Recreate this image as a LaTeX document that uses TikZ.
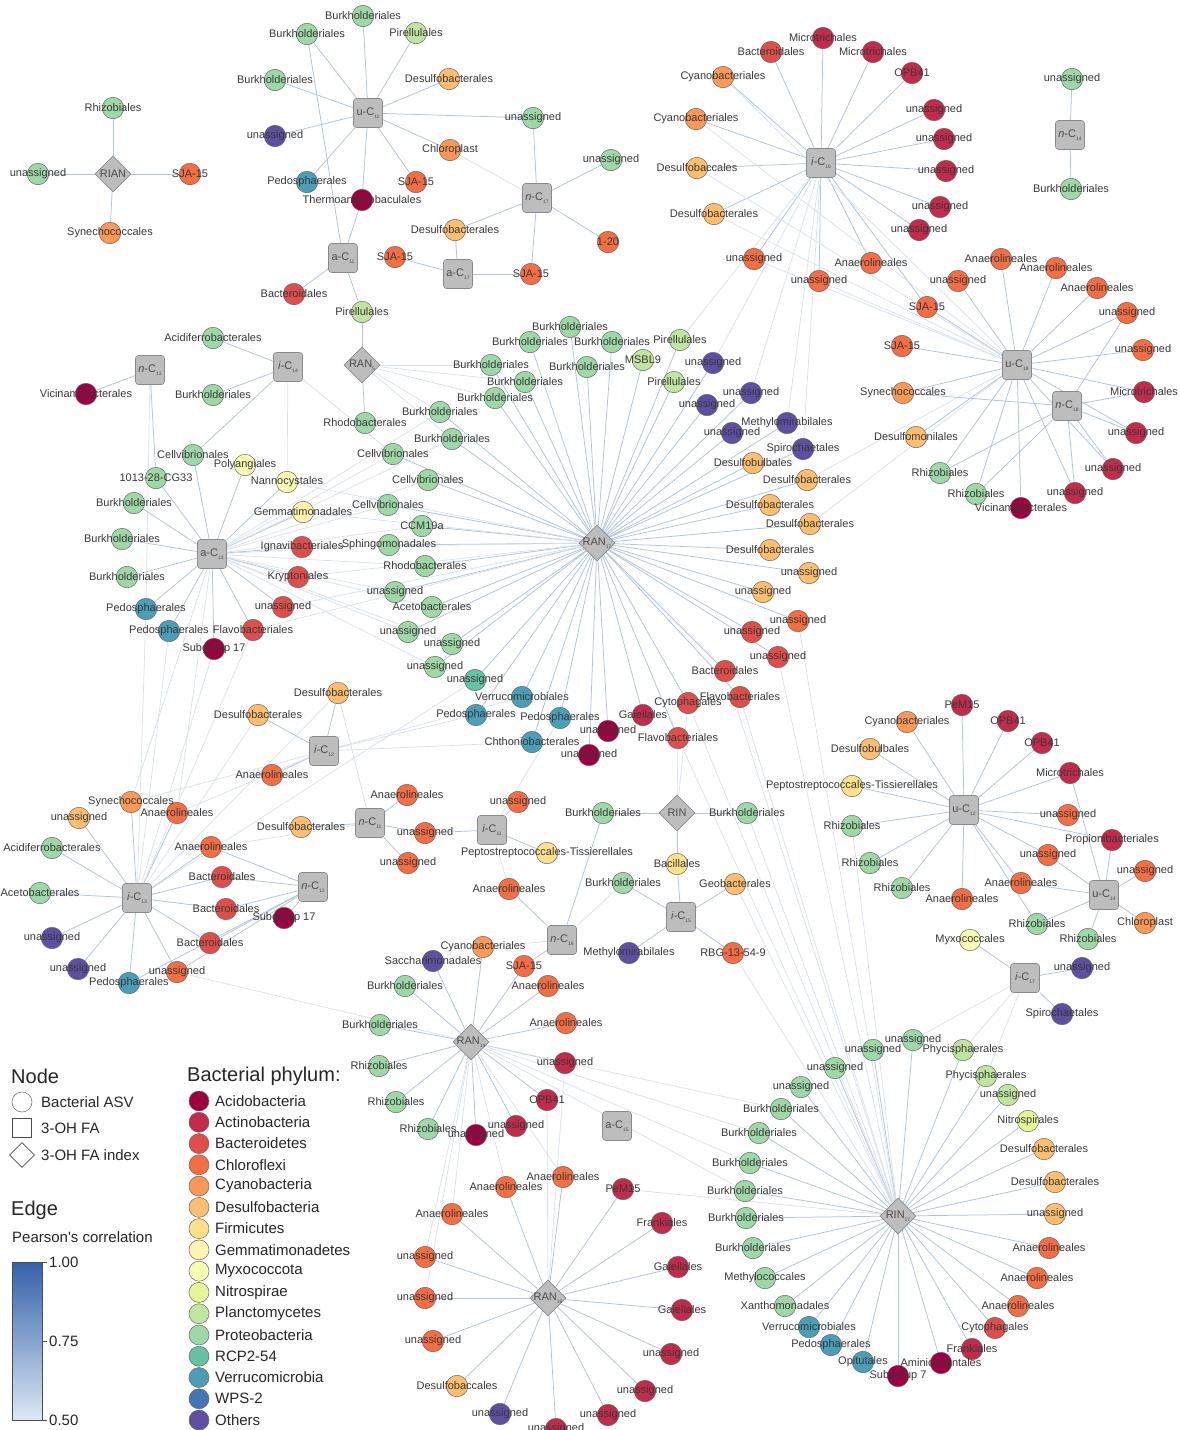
\documentclass[tikz,border=0pt]{standalone}
\usepackage{fontspec}
\setmainfont{Liberation Sans}
\usetikzlibrary{shapes.geometric}
\pgfdeclarelayer{background}
\pgfsetlayers{background,main}
\definecolor{acid}{HTML}{9E0142}
\definecolor{acti}{HTML}{C32A4B}
\definecolor{bact}{HTML}{DF4E4B}
\definecolor{chlo}{HTML}{F46D43}
\definecolor{cyan}{HTML}{FA9857}
\definecolor{desu}{HTML}{FDBF6F}
\definecolor{firm}{HTML}{FEE08B}
\definecolor{gemm}{HTML}{FFF5AE}
\definecolor{myxo}{HTML}{F7FCB2}
\definecolor{nitr}{HTML}{E6F598}
\definecolor{plan}{HTML}{BFE5A0}
\definecolor{prot}{HTML}{9ED8A6}
\definecolor{rcpt}{HTML}{66C2A5}
\definecolor{verr}{HTML}{4A9EB8}
\definecolor{wpst}{HTML}{4175B4}
\definecolor{othe}{HTML}{5E4FA2}
\definecolor{edgec}{HTML}{AFC3DC}
\definecolor{edgelc}{HTML}{D6E1EE}
\definecolor{hubfill}{HTML}{BDBDBD}
\definecolor{hubdraw}{HTML}{8A8A8A}
\definecolor{bartop}{HTML}{3461A9}
\definecolor{barbot}{HTML}{DCE8F5}
\tikzset{
 asv/.style={circle,draw=black!60,line width=0.5pt,minimum size=21.5pt,inner sep=0pt},
 fa/.style={rectangle,rounded corners=3pt,draw=hubdraw,fill=hubfill,line width=0.6pt,minimum size=29pt,inner sep=0pt},
 idx/.style={diamond,draw=hubdraw,fill=hubfill,line width=0.6pt,minimum width=36pt,minimum height=36pt,inner sep=0pt},
 lbl/.style={font=\fontsize{11}{11}\selectfont,text=black!78,inner sep=0pt},
 hlbl/.style={font=\fontsize{11}{11}\selectfont,text=black!70,inner sep=0pt},
 edge/.style={draw=edgec,line width=0.75pt},
 edgel/.style={draw=edgelc,line width=0.7pt},
 lgh/.style={font=\fontsize{20}{20}\selectfont,text=black!85,anchor=west,inner sep=0pt},
 lgt/.style={font=\fontsize{15}{15}\selectfont,text=black!85,anchor=west,inner sep=0pt},
 lgc/.style={circle,draw=black!60,line width=0.5pt,minimum size=20pt,inner sep=0pt}
}
\newcommand{\sbs}[1]{\raisebox{-0.45ex}{\fontsize{5}{5}\selectfont #1}}
\newcommand{\AsvC}[5]{\node[asv,fill=#4] (#1) at (#2,#3) {};}
\newcommand{\AsvL}[5]{\node[lbl] (#1t) at (#2,#3) {#5};}
\newcommand{\FaC}[4]{\node[fa] (#1) at (#2,#3) {};\node[hlbl] (#1t) at (#2,#3) {#4};}
\newcommand{\IdxC}[4]{\node[idx] (#1) at (#2,#3) {};\node[hlbl] (#1t) at (#2,#3) {#4};}
\newcommand{\HubSkip}[4]{}
\newcommand{\Asv}{}
\newcommand{\Fa}{}
\newcommand{\Idx}{}
\newcommand{\Fan}[3][edge]{\foreach \lf in {#3} {\draw[#1] (#2) -- (\lf);}}
\newcommand{\NodeData}{%
\Idx{rian}{113}{174}{RIAN}
\Asv{ria1}{113}{108}{prot}{Rhizobiales}
\Asv{ria2}{38}{174}{prot}{unassigned}
\Asv{ria3}{190}{174}{chlo}{SJA-15}
\Asv{ria4}{110}{233}{cyan}{Synechococcales}
\Fa{uc11}{368}{113}{u-C\sbs{11}}
\Asv{u1}{363}{16}{prot}{Burkholderiales}
\Asv{u2}{307}{34}{prot}{Burkholderiales}
\Asv{u3}{416}{33}{plan}{Pirellulales}
\Asv{u4}{275}{80}{prot}{Burkholderiales}
\Asv{u5}{449}{79}{desu}{Desulfobacterales}
\Asv{u6}{533}{118}{prot}{unassigned}
\Asv{u7}{275}{136}{othe}{unassigned}
\Asv{u8}{450}{150}{cyan}{Chloroplast}
\Asv{u9}{307}{182}{verr}{Pedosphaerales}
\Asv{u10}{416}{182}{chlo}{SJA-15}
\Asv{u11}{362}{200}{acid}{Thermoanaerobaculales}
\Fa{ac11}{343}{258}{a-C\sbs{11}}
\Asv{b1}{294}{294}{bact}{Bacteroidales}
\Asv{b2}{362}{312}{plan}{Pirellulales}
\Fa{nc17}{537}{198}{\textit{n}-C\sbs{17}}
\Asv{n1}{611}{160}{prot}{unassigned}
\Asv{n2}{608}{242}{chlo}{1-20}
\Asv{n3}{455}{230}{desu}{Desulfobacterales}
\Asv{n4}{531}{274}{chlo}{SJA-15}
\Asv{n5}{395}{257}{chlo}{SJA-15}
\Fa{ac17}{458}{274}{a-C\sbs{17}}
\Fa{ic16}{821}{163}{\textit{i}-C\sbs{16}}
\Asv{i1}{771}{52}{bact}{Bacteroidales}
\Asv{i2}{823}{38}{acti}{Microtrichales}
\Asv{i3}{873}{52}{acti}{Microtrichales}
\Asv{i4}{912}{73}{acti}{OPB41}
\Asv{i5}{934}{110}{acti}{unassigned}
\Asv{i6}{944}{139}{acti}{unassigned}
\Asv{i7}{946}{171}{acti}{unassigned}
\Asv{i8}{940}{207}{acti}{unassigned}
\Asv{i9}{919}{230}{acti}{unassigned}
\Asv{i10}{723}{77}{cyan}{Cyanobacteriales}
\Asv{i11}{696}{119}{cyan}{Cyanobacteriales}
\Asv{i12}{697}{168}{desu}{Desulfobaccales}
\Asv{i13}{714}{214}{desu}{Desulfobacterales}
\Asv{i14}{754}{259}{chlo}{unassigned}
\Asv{i15}{871}{263}{chlo}{Anaerolineales}
\Asv{i16}{819}{281}{chlo}{unassigned}
\Asv{i17}{927}{307}{chlo}{SJA-15}
\Fa{nc14}{1070}{135}{\textit{n}-C\sbs{14}}
\Asv{k1}{1072}{79}{prot}{unassigned}
\Asv{k2}{1071}{189}{prot}{Burkholderiales}
\Fa{uc18}{1017}{365}{u-C\sbs{18}}
\Fa{nc18}{1067}{406}{\textit{n}-C\sbs{18}}
\Asv{v1}{1001}{259}{chlo}{Anaerolineales}
\Asv{v2}{1056}{268}{chlo}{Anaerolineales}
\Asv{v3}{1097}{288}{chlo}{Anaerolineales}
\Asv{v4}{1127}{313}{chlo}{unassigned}
\Asv{v5}{1143}{350}{chlo}{unassigned}
\Asv{v6}{958}{281}{chlo}{unassigned}
\Asv{v7}{902}{346}{chlo}{SJA-15}
\Asv{v8}{903}{393}{cyan}{Synechococcales}
\Asv{v9}{916}{437}{desu}{Desulfomonilales}
\Asv{v10}{940}{473}{prot}{Rhizobiales}
\Asv{v11}{976}{494}{prot}{Rhizobiales}
\Asv{v12}{1021}{508}{acid}{Vicinamibacterales}
\Asv{v13}{1075}{493}{acti}{unassigned}
\Asv{v14}{1113}{469}{acti}{unassigned}
\Asv{v15}{1136}{433}{acti}{unassigned}
\Asv{v16}{1144}{392}{acti}{Microtrichales}
\Fa{nc13}{150}{370}{\textit{n}-C\sbs{13}}
\Fa{ic14}{288}{367}{\textit{i}-C\sbs{14}}
\Idx{ran5}{362}{365}{RAN\sbs{5}}
\Asv{l1}{86}{394}{acid}{Vicinamibacterales}
\Asv{l2}{213}{338}{prot}{Acidiferrobacterales}
\Asv{l3}{213}{395}{prot}{Burkholderiales}
\Asv{l4}{365}{423}{prot}{Rhodobacterales}
\Fa{ac13}{212}{554}{a-C\sbs{13}}
\Asv{a1}{193}{455}{prot}{Cellvibrionales}
\Asv{a2}{245}{465}{myxo}{Polyangiales}
\Asv{a3}{156}{478}{prot}{1013-28-CG33}
\Asv{a4}{287}{482}{myxo}{Nannocystales}
\Asv{a5}{134}{503}{prot}{Burkholderiales}
\Asv{a6}{303}{512}{gemm}{Gemmatimonadales}
\Asv{a7}{122}{539}{prot}{Burkholderiales}
\Asv{a8}{302}{547}{bact}{Ignavibacteriales}
\Asv{a9}{298}{577}{bact}{Kryptoniales}
\Asv{a10}{127}{577}{prot}{Burkholderiales}
\Asv{a11}{146}{609}{verr}{Pedosphaerales}
\Asv{a12}{283}{607}{bact}{unassigned}
\Asv{a13}{169}{631}{verr}{Pedosphaerales}
\Asv{a14}{253}{630}{bact}{Flavobacteriales}
\Asv{a15}{214}{649}{acid}{Subgroup 17}
\Idx{ran17}{597}{543}{RAN\sbs{17}}
\Asv{r1}{570}{327}{prot}{Burkholderiales}
\Asv{r2}{530}{342}{prot}{Burkholderiales}
\Asv{r3}{612}{342}{prot}{Burkholderiales}
\Asv{r4}{680}{340}{plan}{Pirellulales}
\Asv{r5}{643}{360}{plan}{MSBL9}
\Asv{r6}{713}{363}{othe}{unassigned}
\Asv{r7}{491}{365}{prot}{Burkholderiales}
\Asv{r8}{587}{367}{prot}{Burkholderiales}
\Asv{r9}{525}{382}{prot}{Burkholderiales}
\Asv{r10}{674}{382}{plan}{Pirellulales}
\Asv{r11}{751}{393}{othe}{unassigned}
\Asv{r12}{495}{398}{prot}{Burkholderiales}
\Asv{r13}{707}{405}{othe}{unassigned}
\Asv{r14}{440}{412}{prot}{Burkholderiales}
\Asv{r15}{452}{439}{prot}{Burkholderiales}
\Asv{r16}{787}{423}{othe}{Methylomirabilales}
\Asv{r17}{732}{433}{othe}{unassigned}
\Asv{r18}{803}{449}{othe}{Spirochaetales}
\Asv{r19}{393}{454}{prot}{Cellvibrionales}
\Asv{r20}{753}{463}{desu}{Desulfobulbales}
\Asv{r21}{428}{480}{prot}{Cellvibrionales}
\Asv{r22}{807}{480}{desu}{Desulfobacterales}
\Asv{r23}{388}{505}{prot}{Cellvibrionales}
\Asv{r24}{770}{505}{desu}{Desulfobacterales}
\Asv{r25}{422}{526}{prot}{CCM19a}
\Asv{r26}{810}{524}{desu}{Desulfobacterales}
\Asv{r27}{389}{545}{prot}{Sphingomonadales}
\Asv{r28}{770}{550}{desu}{Desulfobacterales}
\Asv{r29}{425}{566}{prot}{Rhodobacterales}
\Asv{r30}{809}{573}{desu}{unassigned}
\Asv{r31}{395}{592}{prot}{unassigned}
\Asv{r32}{763}{592}{desu}{unassigned}
\Asv{r33}{432}{607}{prot}{Acetobacterales}
\Asv{r34}{798}{621}{chlo}{unassigned}
\Asv{r35}{408}{632}{prot}{unassigned}
\Asv{r36}{752}{632}{bact}{unassigned}
\Asv{r37}{452}{644}{prot}{unassigned}
\Asv{r38}{778}{657}{bact}{unassigned}
\Asv{r39}{435}{667}{prot}{unassigned}
\Asv{r40}{725}{671}{bact}{Bacteroidales}
\Asv{r41}{475}{680}{rcpt}{unassigned}
\Asv{r42}{522}{697}{verr}{Verrucomicrobiales}
\Asv{r43}{740}{697}{bact}{Flavobacteriales}
\Asv{r44}{688}{703}{bact}{Cytophagales}
\Asv{r45}{476}{715}{verr}{Pedosphaerales}
\Asv{r46}{560}{718}{verr}{Pedosphaerales}
\Asv{r47}{643}{715}{acti}{Gaiellales}
\Asv{r48}{608}{731}{acid}{unassigned}
\Asv{r49}{532}{742}{verr}{Chthoniobacterales}
\Asv{r50}{678}{738}{bact}{Flavobacteriales}
\Asv{r51}{589}{755}{acid}{unassigned}
\Fa{ic12}{324}{751}{\textit{i}-C\sbs{12}}
\Fa{nc11}{370}{823}{\textit{n}-C\sbs{11}}
\Fa{ic11}{492}{830}{\textit{i}-C\sbs{11}}
\Fa{nc12}{313}{887}{\textit{n}-C\sbs{12}}
\Idx{rin}{677}{813}{RIN}
\Fa{ic15}{681}{917}{\textit{i}-C\sbs{15}}
\Fa{nc16}{562}{940}{\textit{n}-C\sbs{16}}
\Asv{m1}{338}{693}{desu}{Desulfobacterales}
\Asv{m2}{258}{715}{desu}{Desulfobacterales}
\Asv{m3}{272}{775}{chlo}{Anaerolineales}
\Asv{m4}{407}{795}{chlo}{Anaerolineales}
\Asv{m5}{301}{827}{desu}{Desulfobacterales}
\Asv{m6}{425}{833}{chlo}{unassigned}
\Asv{m7}{408}{863}{chlo}{unassigned}
\Asv{m8}{518}{802}{chlo}{unassigned}
\Asv{m9}{547}{853}{firm}{Peptostreptococcales-Tissierellales}
\Asv{m10}{603}{813}{prot}{Burkholderiales}
\Asv{m11}{747}{813}{prot}{Burkholderiales}
\Asv{m12}{677}{864}{firm}{Bacillales}
\Asv{m13}{623}{883}{prot}{Burkholderiales}
\Asv{m14}{735}{884}{desu}{Geobacterales}
\Asv{m15}{629}{953}{othe}{Methylomirabilales}
\Asv{m16}{733}{953}{chlo}{RBG-13-54-9}
\Asv{m17}{509}{889}{chlo}{Anaerolineales}
\Fa{ic13}{137}{898}{\textit{i}-C\sbs{13}}
\Asv{c1}{131}{802}{cyan}{Synechococcales}
\Asv{c2}{79}{818}{desu}{unassigned}
\Asv{c3}{177}{813}{chlo}{Anaerolineales}
\Asv{c4}{52}{848}{prot}{Acidiferrobacterales}
\Asv{c5}{211}{847}{chlo}{Anaerolineales}
\Asv{c6}{222}{877}{bact}{Bacteroidales}
\Asv{c7}{40}{893}{prot}{Acetobacterales}
\Asv{c8}{226}{909}{bact}{Bacteroidales}
\Asv{c9}{284}{918}{acid}{Subgroup 17}
\Asv{c10}{52}{938}{othe}{unassigned}
\Asv{c11}{210}{943}{bact}{Bacteroidales}
\Asv{c12}{78}{969}{othe}{unassigned}
\Asv{c13}{177}{972}{chlo}{unassigned}
\Asv{c14}{129}{983}{verr}{Pedosphaerales}
\Idx{ran14}{471}{1042}{RAN\sbs{14}}
\Asv{d1}{380}{1025}{prot}{Burkholderiales}
\Asv{d2}{405}{986}{prot}{Burkholderiales}
\Asv{d3}{433}{961}{othe}{Saccharimonadales}
\Asv{d4}{483}{947}{cyan}{Cyanobacteriales}
\Asv{d5}{524}{966}{chlo}{SJA-15}
\Asv{d6}{548}{986}{chlo}{Anaerolineales}
\Asv{d7}{566}{1023}{chlo}{Anaerolineales}
\Asv{d8}{565}{1063}{acti}{unassigned}
\Asv{d9}{379}{1066}{prot}{Rhizobiales}
\Asv{d10}{396}{1102}{prot}{Rhizobiales}
\Asv{d11}{547}{1100}{acti}{OPB41}
\Asv{d12}{428}{1129}{prot}{Rhizobiales}
\Asv{d13}{516}{1126}{acti}{unassigned}
\Asv{d14}{476}{1135}{acid}{unassigned}
\Fa{ac15}{617}{1126}{a-C\sbs{15}}
\Idx{ran16}{548}{1298}{RAN\sbs{16}}
\Asv{e1}{563}{1177}{chlo}{Anaerolineales}
\Asv{e2}{506}{1187}{chlo}{Anaerolineales}
\Asv{e3}{623}{1189}{acti}{PeM15}
\Asv{e4}{452}{1214}{chlo}{Anaerolineales}
\Asv{e5}{662}{1223}{acti}{Frankiales}
\Asv{e6}{425}{1257}{chlo}{unassigned}
\Asv{e7}{678}{1267}{acti}{Gaiellales}
\Asv{e8}{425}{1298}{chlo}{unassigned}
\Asv{e9}{682}{1310}{acti}{Gaiellales}
\Asv{e10}{433}{1341}{chlo}{unassigned}
\Asv{e11}{671}{1354}{acti}{unassigned}
\Asv{e12}{457}{1386}{desu}{Desulfobaccales}
\Asv{e13}{645}{1391}{acti}{unassigned}
\Asv{e14}{500}{1414}{othe}{unassigned}
\Asv{e15}{608}{1415}{acti}{unassigned}
\Asv{e16}{556}{1429}{acti}{unassigned}
\Fa{uc12}{964}{810}{u-C\sbs{12}}
\Fa{uc14}{1104}{895}{u-C\sbs{14}}
\Fa{ic17}{1025}{978}{\textit{i}-C\sbs{17}}
\Asv{w1}{962}{705}{acti}{PeM15}
\Asv{w2}{1008}{721}{acti}{OPB41}
\Asv{w3}{1042}{743}{acti}{OPB41}
\Asv{w4}{907}{722}{cyan}{Cyanobacteriales}
\Asv{w5}{870}{749}{desu}{Desulfobulbales}
\Asv{w6}{852}{786}{firm}{Peptostreptococcales-Tissierellales}
\Asv{w7}{1070}{773}{acti}{Microtrichales}
\Asv{w8}{1068}{815}{chlo}{unassigned}
\Asv{w9}{852}{826}{prot}{Rhizobiales}
\Asv{w10}{1048}{855}{chlo}{unassigned}
\Asv{w11}{870}{863}{prot}{Rhizobiales}
\Asv{w12}{1021}{883}{chlo}{Anaerolineales}
\Asv{w13}{962}{899}{chlo}{Anaerolineales}
\Asv{w14}{902}{888}{prot}{Rhizobiales}
\Asv{w15}{1112}{840}{acti}{Propionibacteriales}
\Asv{w16}{1037}{924}{prot}{Rhizobiales}
\Asv{w17}{1145}{871}{chlo}{unassigned}
\Asv{w18}{1145}{923}{cyan}{Chloroplast}
\Asv{w19}{1088}{939}{prot}{Rhizobiales}
\Asv{w20}{970}{940}{myxo}{Myxococcales}
\Asv{w21}{1082}{968}{othe}{unassigned}
\Asv{w22}{1062}{1014}{othe}{Spirochaetales}
\Idx{rin17}{898}{1216}{RIN\sbs{17}}
\Asv{f1}{873}{1050}{prot}{unassigned}
\Asv{f2}{913}{1040}{prot}{unassigned}
\Asv{f3}{963}{1050}{plan}{Phycisphaerales}
\Asv{f4}{835}{1068}{prot}{unassigned}
\Asv{f5}{986}{1076}{plan}{Phycisphaerales}
\Asv{f6}{801}{1087}{prot}{unassigned}
\Asv{f7}{1008}{1095}{plan}{unassigned}
\Asv{f8}{781}{1109}{prot}{Burkholderiales}
\Asv{f9}{1028}{1121}{nitr}{Nitrospirales}
\Asv{f10}{759}{1133}{prot}{Burkholderiales}
\Asv{f11}{1044}{1149}{desu}{Desulfobacterales}
\Asv{f12}{750}{1163}{prot}{Burkholderiales}
\Asv{f13}{1055}{1182}{desu}{Desulfobacterales}
\Asv{f14}{745}{1191}{prot}{Burkholderiales}
\Asv{f15}{1055}{1214}{desu}{unassigned}
\Asv{f16}{746}{1218}{prot}{Burkholderiales}
\Asv{f17}{1049}{1248}{chlo}{Anaerolineales}
\Asv{f18}{753}{1248}{prot}{Burkholderiales}
\Asv{f19}{1037}{1278}{chlo}{Anaerolineales}
\Asv{f20}{765}{1278}{prot}{Methylococcales}
\Asv{f21}{1018}{1306}{chlo}{Anaerolineales}
\Asv{f22}{785}{1306}{prot}{Xanthomonadales}
\Asv{f23}{995}{1328}{bact}{Cytophagales}
\Asv{f24}{809}{1327}{verr}{Verrucomicrobiales}
\Asv{f25}{972}{1349}{acti}{Frankiales}
\Asv{f26}{831}{1345}{verr}{Pedosphaerales}
\Asv{f27}{863}{1362}{verr}{Opitutales}
\Asv{f28}{941}{1363}{acid}{Aminicenantales}
\Asv{f29}{898}{1376}{acid}{Subgroup 7}
}
\begin{document}
\begin{tikzpicture}[x=1pt,y=-1pt]
\useasboundingbox (0,0) rectangle (1179,1430);
\begin{pgfonlayer}{background}
\fill[white] (0,0) rectangle (1179,1430);
\end{pgfonlayer}
% pass 1: shapes
\let\Asv\AsvC \let\Fa\FaC \let\Idx\IdxC
\NodeData
% edges
\begin{pgfonlayer}{background}
\Fan{rian}{ria1,ria2,ria3,ria4}
\Fan{uc11}{u1,u2,u3,u4,u5,u6,u7,u8,u9,u10,u11}
\Fan{ac11}{u11,u2,b1,b2}
\Fan{nc17}{u6,n1,n2,n3,n4}
\Fan[edgel]{nc17}{u8}
\Fan{ac17}{n3,n4,n5}
\Fan{ic16}{i1,i2,i3,i4,i5,i6,i7,i8,i9,i10,i11,i12,i13,i14,i15,i16,i17}
\Fan[edgel]{ic16}{r6,r11,r16,r18,r4}
\Fan{nc14}{k1,k2}
\Fan{uc18}{v1,v2,v3,v4,v5,v6,i17,v7,v8,v9,v10,v11,v12,v13,v14,v15,v16}
\Fan[edgel]{uc18}{i10,i11,i12,i13,i14,i16,r22,r26}
\Fan{nc18}{v8,v10,v11,v13,v14,v15,v16,v4}
\Fan{nc13}{l1,a3}
\Fan[edgel]{nc13}{a11}
\Fan{ic14}{l2,l3,a1}
\Fan[edgel]{ic14}{a4,r19}
\Fan{ran5}{b2,l4}
\Fan[edgel]{ran5}{r7,r9,r12,r14,r15}
\Fan{ac13}{a1,a2,a3,a4,a5,a6,a7,a8,a9,a10,a11,a12,a13,a14,a15}
\Fan[edgel]{ac13}{r19,r21,r23,r25,r27,r29,r31,r33,r35,r37,r39,r14,r15,c1,c3}
\Fan{ran17}{r1,r2,r3,r4,r5,r6,r7,r8,r9,r10,r11,r12,r13,r14,r15,r16,r17,r18,r19,r20,r21,r22,r23,r24,r25,r26,r27,r28,r29,r30,r31,r32,r33,r34,r35,r36,r37,r38,r39,r40,r41,r42,r43,r44,r45,r46,r47,r48,r49,r50,r51}
\Fan[edgel]{ran17}{a4,a6,a8,a9,a12,a14}
\Fan{ic12}{m1,m2,m3}
\Fan[edgel]{ic12}{r45,r49,c1,c3,r42}
\Fan{nc11}{m4,m5,m6,m7}
\Fan[edgel]{nc11}{c5,m1}
\Fan{ic11}{m6,m8,m9}
\Fan[edgel]{ic11}{m17,r46}
\Fan{nc12}{c5,c6,c8,c9,c11,c13,c14}
\Fan{ic13}{c1,c2,c3,c4,c5,c6,c7,c8,c10,c11,c12,c13,c14}
\Fan[edgel]{ic13}{a13,a11,a15,a14,m2,m1,r41}
\Fan{rin}{m10,m11,m12}
\Fan[edgel]{rin}{r50,r44}
\Fan{ic15}{m12,m13,m14,m15,m16}
\Fan{nc16}{m17,d5,m10}
\Fan[edgel]{nc16}{m13,d4}
\Fan{ran14}{d1,d2,d3,d4,d5,d6,d7,d8,d9,d10,d11,d12,d13,d14}
\Fan[edgel]{ran14}{f8,f10,f12,f14,e1,e2,e4,e6,e8,c13}
\Fan{ran16}{e1,e2,e3,e4,e5,e6,e7,e8,e9,e10,e11,e12,e13,e14,e15,e16}
\Fan[edgel]{ran16}{d11,d8}
\Fan{uc12}{w1,w2,w3,w4,w5,w6,w7,w8,w9,w10,w11,w12,w13,w14,w15,w16}
\Fan{uc14}{w7,w10,w12,w15,w16,w17,w18,w19}
\Fan{ic17}{w20,w21,w22}
\Fan[edgel]{ic17}{f3,f2,f5}
\Fan{rin17}{f1,f2,f3,f4,f5,f6,f7,f8,f9,f10,f11,f12,f13,f14,f15,f16,f17,f18,f19,f20,f21,f22,f23,f24,f25,f26,f27,f28,f29}
\Fan[edgel]{rin17}{r40,r43,r44,r50,m11,m14,m16,r34,r38,w9,e3}
\end{pgfonlayer}
% pass 2: labels on top
\let\Asv\AsvL \let\Fa\HubSkip \let\Idx\HubSkip
\NodeData
% ---------- legend
\node[lgh] (lgnode) at (11,1076) {Node};
\node[lgc,fill=white] (lgc1) at (22,1102) {};
\node[lgt] (lgt1) at (41,1102) {Bacterial ASV};
\node[draw=black!70,line width=0.6pt,minimum size=19pt,inner sep=0pt] (lgc2) at (22,1128) {};
\node[lgt] (lgt2) at (41,1128) {3-OH FA};
\node[diamond,draw=black!70,line width=0.6pt,minimum width=25pt,minimum height=25pt,inner sep=0pt] (lgc3) at (22,1155) {};
\node[lgt] (lgt3) at (41,1155) {3-OH FA index};
\node[lgh] (lgedge) at (11,1210) {Edge};
\node[lgt] (lgpc) at (12,1237) {Pearson\textquotesingle s correlation};
\shade[top color=bartop,bottom color=barbot] (12,1262) rectangle (42,1420);
\draw[black!70,line width=0.5pt] (12,1262) rectangle (42,1420);
\draw[black!70,line width=0.6pt] (42,1262) -- (47,1262) (42,1341) -- (47,1341) (42,1420) -- (47,1420);
\node[lgt] (lgb1) at (49,1262) {1.00};
\node[lgt] (lgb2) at (49,1341) {0.75};
\node[lgt] (lgb3) at (49,1420) {0.50};
\node[lgh] (lgphy) at (187,1076) {Bacterial phylum:};
\foreach \cc/\nm [count=\k from 0] in {acid/Acidobacteria,acti/Actinobacteria,bact/Bacteroidetes,chlo/Chloroflexi,cyan/Cyanobacteria,desu/Desulfobacteria,firm/Firmicutes,gemm/Gemmatimonadetes,myxo/Myxococcota,nitr/Nitrospirae,plan/Planctomycetes,prot/Proteobacteria,rcpt/RCP2-54,verr/Verrucomicrobia,wpst/WPS-2,othe/Others}{
 \node[lgc,fill=\cc] (lgp\k) at (199,1101+21.27*\k) {};
 \node[lgt] (lgpt\k) at (215,1101+21.27*\k) {\nm};
}
\end{tikzpicture}
\end{document}
